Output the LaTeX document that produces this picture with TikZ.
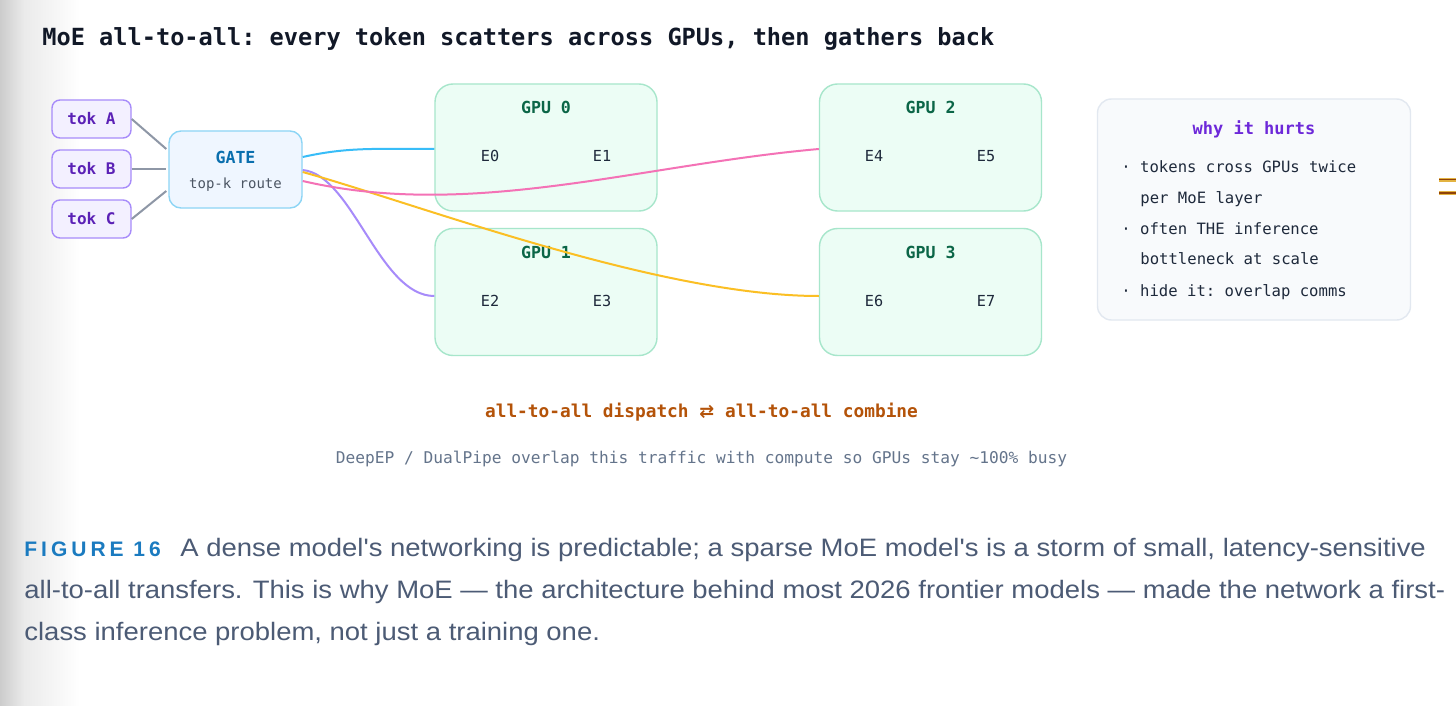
\documentclass[tikz,border=0pt]{standalone}
\usepackage{fontspec}
\setmonofont{DejaVu Sans Mono}
\newfontfamily\capfont[FakeStretch=1.09]{Liberation Sans}
\newfontfamily\figfont[LetterSpace=19]{Liberation Sans}
\newfontfamily\symfont{DejaVu Sans}
\usetikzlibrary{calc, positioning}

\definecolor{titleink}{HTML}{111827}
\definecolor{tokfill}{HTML}{F3F0FF}
\definecolor{tokedge}{HTML}{A78BFA}
\definecolor{tokink}{HTML}{5B21B6}
\definecolor{gatefill}{HTML}{EFF6FF}
\definecolor{gateedge}{HTML}{8DD5F5}
\definecolor{gateink}{HTML}{0A6FAE}
\definecolor{subink}{HTML}{4B5563}
\definecolor{gpufill}{HTML}{ECFDF5}
\definecolor{gpuedge}{HTML}{A7E6CB}
\definecolor{gpuink}{HTML}{0B6647}
\definecolor{expink}{HTML}{1E293B}
\definecolor{lineg}{HTML}{8E97A6}
\definecolor{routeblue}{HTML}{38BDF8}
\definecolor{routepink}{HTML}{F472B6}
\definecolor{routepurple}{HTML}{A78BFA}
\definecolor{routeyellow}{HTML}{FBBF24}
\definecolor{whyfill}{HTML}{F8FAFC}
\definecolor{whyedge}{HTML}{E2E8F0}
\definecolor{whyink}{HTML}{6D28D9}
\definecolor{amberink}{HTML}{B45309}
\definecolor{amberglow}{HTML}{E3B341}
\definecolor{noteink}{HTML}{64748B}
\definecolor{figblue}{HTML}{1B7BC0}
\definecolor{capink}{HTML}{4C5B75}

\tikzset{
  tokbox/.style={draw=tokedge, fill=tokfill, rounded corners=4pt, line width=0.7pt,
    minimum width=39.5pt, minimum height=19pt, inner sep=0pt, text=tokink,
    font=\ttfamily\bfseries\fontsize{8}{9}\selectfont},
  gatebox/.style={draw=gateedge, fill=gatefill, rounded corners=6pt, line width=0.7pt,
    minimum width=66.5pt, minimum height=38.5pt, inner sep=0pt},
  gpubox/.style={draw=gpuedge, fill=gpufill, rounded corners=9pt, line width=0.7pt,
    minimum width=111pt, minimum height=63.5pt, inner sep=0pt},
  whybox/.style={draw=whyedge, fill=whyfill, rounded corners=7pt, line width=0.7pt,
    minimum width=156.5pt, minimum height=110.5pt, inner sep=0pt},
  gputitle/.style={anchor=mid, inner sep=0pt, text=gpuink,
    font=\ttfamily\bfseries\fontsize{8.3}{10}\selectfont},
  expert/.style={anchor=mid, inner sep=0pt, text=expink,
    font=\ttfamily\fontsize{7.6}{9}\selectfont},
  bullet/.style={anchor=mid west, inner sep=0pt, text=expink,
    font=\ttfamily\fontsize{7.8}{9}\selectfont},
  captext/.style={anchor=base west, inner sep=0pt, text=capink,
    font=\capfont\fontsize{12.6}{15}\selectfont},
  tokline/.style={draw=lineg, line width=1pt},
  route/.style={line width=1pt}
}

\begin{document}
\begin{tikzpicture}[x=0.5pt, y=-0.5pt]

% Canvas and left shadow
\useasboundingbox (0,0) rectangle (1456,706);
\fill[white] (0,0) rectangle (1456,706);
\shade[left color=black!20, right color=black!8] (0,0) rectangle (24,706);
\shade[left color=black!8, right color=white] (24,0) rectangle (80,706);

% Title
\node[anchor=base west, inner sep=0pt, text=titleink,
  font=\ttfamily\bfseries\fontsize{11.8}{14}\selectfont] (title) at (42,45.5)
  {MoE all-to-all: every token scatters across GPUs, then gathers back};

% Tokens
\node[tokbox] (tokA) at (91.5,119) {tok A};
\node[tokbox] (tokB) at (91.5,169) {tok B};
\node[tokbox] (tokC) at (91.5,219) {tok C};

% Gate
\node[gatebox] (gate) at (235.5,169.5) {};
\node[anchor=mid, inner sep=0pt, text=gateink,
  font=\ttfamily\bfseries\fontsize{8.3}{10}\selectfont] (gatename) at (235.5,159.5) {GATE};
\node[anchor=mid, inner sep=0pt, text=subink,
  font=\ttfamily\fontsize{7}{9}\selectfont] (gateroute) at (235.5,184) {top-k route};

\draw[tokline] (tokA.east) -- ($(gate.west)+(-2,-20.5)$);
\draw[tokline] (tokB.east) -- ($(gate.west)+(-2,-0.5)$);
\draw[tokline] (tokC.east) -- ($(gate.west)+(-2,21.5)$);

% GPUs
\node[gpubox] (gpu0) at (546,147.5) {};
\node[gputitle] (gpu0name) at (546,109.5) {GPU 0};
\node[expert] (e0) at (490,157.5) {E0};
\node[expert] (e1) at (602,157.5) {E1};

\node[gpubox] (gpu1) at (546,292) {};
\node[gputitle] (gpu1name) at (546,254.5) {GPU 1};
\node[expert] (e2) at (490,302) {E2};
\node[expert] (e3) at (602,302) {E3};

\node[gpubox] (gpu2) at (930.5,147.5) {};
\node[gputitle] (gpu2name) at (930.5,109.5) {GPU 2};
\node[expert] (e4) at (874,157.5) {E4};
\node[expert] (e5) at (986,157.5) {E5};

\node[gpubox] (gpu3) at (930.5,292) {};
\node[gputitle] (gpu3name) at (930.5,254.5) {GPU 3};
\node[expert] (e6) at (874,302) {E6};
\node[expert] (e7) at (986,302) {E7};

% Routes from the gate
\draw[route, routeblue] ($(gate.east)+(0,-12.5)$) .. controls +(45,-10) and +(-60,0) .. ($(gpu0.west)+(0,1.5)$);
\draw[route, routepurple] ($(gate.east)+(0,0.5)$) .. controls +(50,5) and +(-55,0) .. ($(gpu1.west)+(0,4)$);
\draw[route, routeyellow] ($(gate.east)+(0,2.5)$) .. controls +(118,33) and +(-160,0) .. ($(gpu3.west)+(0,4)$);
\draw[route, routepink] ($(gate.east)+(0,11.5)$) .. controls +(168,39) and +(-180,16) .. ($(gpu2.west)+(0,1.5)$);

% Side panel
\node[whybox] (why) at (1254,209.5) {};
\node[anchor=mid, inner sep=0pt, text=whyink,
  font=\ttfamily\bfseries\fontsize{8.5}{10}\selectfont] (whytitle) at (1254,130) {why it hurts};
\node[bullet] (why1) at (1121,168.5) {· tokens cross GPUs twice};
\node[bullet] (why1b) at (1140,199.5) {per MoE layer};
\node[bullet] (why2) at (1121,230.5) {· often THE inference};
\node[bullet] (why2b) at (1140,260.5) {bottleneck at scale};
\node[bullet] (why3) at (1121,292.5) {· hide it: overlap comms};

% Cut-off mark at the right edge
\coordinate (markA) at (1439,179.5);
\coordinate (markB) at (1439,193);
\draw[amberglow, line width=2pt] (markA) -- ++(20,0);
\draw[amberglow, line width=2pt] (markB) -- ++(20,0);
\draw[amberink!80!black, line width=0.7pt] (markA) -- ++(20,0);
\draw[amberink!80!black, line width=0.7pt] (markB) -- ++(20,0);

% Dispatch / combine
\node[anchor=mid, inner sep=0pt, text=amberink,
  font=\ttfamily\bfseries\fontsize{8.9}{11}\selectfont] (dispatch) at (701.5,413)
  {all-to-all dispatch {\symfont ⇄} all-to-all combine};
\node[anchor=mid, inner sep=0pt, text=noteink,
  font=\ttfamily\fontsize{8.1}{10}\selectfont] (note) at (701.5,459)
  {DeepEP / DualPipe overlap this traffic with compute so GPUs stay \textasciitilde100\% busy};

% Caption
\node[anchor=base west, inner sep=0pt, text=figblue,
  font=\figfont\bfseries\fontsize{10.5}{13}\selectfont] (fignum) at (24,556) {FIGURE 16};
\node[captext] (cap1) at (180,556)
  {A dense model's networking is predictable; a sparse MoE model's is a storm of small, latency-sensitive};
\node[captext] (cap2) at (24,598)
  {all-to-all transfers. This is why MoE — the architecture behind most 2026 frontier models — made the network a first-};
\node[captext] (cap3) at (24,640)
  {class inference problem, not just a training one.};

\end{tikzpicture}
\end{document}
